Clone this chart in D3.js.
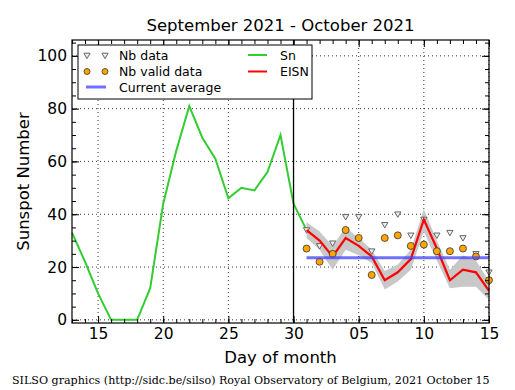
<!DOCTYPE html>
<html>
<head>
<meta charset="utf-8">
<script src="https://cdn.jsdelivr.net/npm/d3@7"></script>
<style>
  body { margin: 0; background: #fff; }
  text { font-family: "DejaVu Sans", sans-serif; }
</style>
</head>
<body>
<div id="chart"></div>
<script>
// Days counted from 1 September (31 = 1 October)
const snDays = [13, 14, 15, 16, 17, 18, 19, 20, 21, 22, 23, 24, 25, 26, 27, 28, 29, 30, 31];
const snValues = [33, 22, 10, 0, 0, 0, 12, 44, 64, 81, 69, 61, 46, 50, 49, 56, 70, 44, 34];

const eisnDays = [31, 32, 33, 34, 35, 36, 37, 38, 39, 40, 41, 42, 43, 44, 45];
const eisnValues = [34, 30, 24, 31, 28, 24, 15, 18, 23, 38, 27, 15, 19, 18, 11];
const eisnUpper = [37, 33.5, 28, 35, 31, 26.5, 18.5, 21, 26.5, 42, 30, 19, 24.5, 22.5, 14.5];
const eisnLower = [31, 26.5, 19, 26.5, 24.5, 21.5, 11.5, 14.5, 19, 33.5, 22.5, 12, 12.5, 12.5, 7.5];

const nbData = [34, 28, 29, 39, 39, 26, 36, 40, 32, 38, 32, 33, 31, 25, 18];
const nbValid = [27, 22, 25, 34, 31, 17, 31, 32, 28, 28.5, 26, 26, 27, 24, 15];

const currentAverage = 23.5;

const xTicks = [15, 20, 25, 30, 35, 40, 45];
const xTickLabels = ["15", "20", "25", "30", "05", "10", "15"];
const yTicks = [0, 20, 40, 60, 80, 100];

const W = 515, H = 390;
const margin = {top: 40, right: 26, bottom: 67, left: 72};
const width = W - margin.left - margin.right;
const height = H - margin.top - margin.bottom;

const svg = d3.select("#chart").append("svg")
  .attr("width", W)
  .attr("height", H);

const g = svg.append("g")
  .attr("transform", `translate(${margin.left},${margin.top})`);

const x = d3.scaleLinear().domain([13, 45]).range([0, width]);
const y = d3.scaleLinear().domain([-1.2, 106]).range([height, 0]);

// Grid
g.append("g").selectAll("line")
  .data(xTicks)
  .join("line")
  .attr("x1", d => x(d)).attr("x2", d => x(d))
  .attr("y1", 0).attr("y2", height)
  .attr("stroke", "#000").attr("stroke-width", 0.8)
  .attr("stroke-dasharray", "1,3");
g.append("g").selectAll("line")
  .data(yTicks)
  .join("line")
  .attr("x1", 0).attr("x2", width)
  .attr("y1", d => y(d)).attr("y2", d => y(d))
  .attr("stroke", "#000").attr("stroke-width", 0.8)
  .attr("stroke-dasharray", "1,3");

// Uncertainty band
const band = d3.area()
  .x((d, i) => x(eisnDays[i]))
  .y0((d, i) => y(eisnLower[i]))
  .y1((d, i) => y(eisnUpper[i]));
g.append("path")
  .datum(eisnDays)
  .attr("fill", "#c8c8c8")
  .attr("d", band);

// Sn line
const snLine = d3.line()
  .x((d, i) => x(snDays[i]))
  .y(d => y(d));
g.append("path")
  .datum(snValues)
  .attr("fill", "none")
  .attr("stroke", "#33cc33")
  .attr("stroke-width", 2)
  .attr("d", snLine);

// Vertical line at end of September
g.append("line")
  .attr("x1", x(30)).attr("x2", x(30))
  .attr("y1", 0).attr("y2", height)
  .attr("stroke", "#000").attr("stroke-width", 1.3);

// Nb data triangles
const tri = d3.symbol().type(d3.symbolTriangle).size(17);
g.append("g").selectAll("path")
  .data(nbData)
  .join("path")
  .attr("d", tri)
  .attr("transform", (d, i) => `translate(${x(eisnDays[i])},${y(d) - 0.5}) rotate(180)`)
  .attr("fill", "#eeeeee")
  .attr("stroke", "#666")
  .attr("stroke-width", 1);

// EISN line
const eisnLine = d3.line()
  .x((d, i) => x(eisnDays[i]))
  .y(d => y(d));
g.append("path")
  .datum(eisnValues)
  .attr("fill", "none")
  .attr("stroke", "#ff0000")
  .attr("stroke-width", 2.2)
  .attr("d", eisnLine);

// Nb valid circles
g.append("g").selectAll("circle")
  .data(nbValid)
  .join("circle")
  .attr("cx", (d, i) => x(eisnDays[i]))
  .attr("cy", d => y(d))
  .attr("r", 3.5)
  .attr("fill", "#ffa500")
  .attr("stroke", "#333")
  .attr("stroke-width", 0.8);

// Current average
g.append("line")
  .attr("x1", x(31)).attr("x2", x(45))
  .attr("y1", y(currentAverage)).attr("y2", y(currentAverage))
  .attr("stroke", "#4040ff").attr("stroke-opacity", 0.75)
  .attr("stroke-width", 3);

// Axes (ticks inside on all sides)
const tickFmt = d => xTickLabels[xTicks.indexOf(d)];
const days = d3.range(13, 46);
const fives = d3.range(0, 106, 5);

function styleAxis(sel) {
  sel.select(".domain").remove();
  sel.selectAll("text").attr("font-size", 15.5).attr("font-family", "DejaVu Sans");
  sel.selectAll("line").attr("stroke-width", 1);
}

g.append("g").attr("transform", `translate(0,${height})`)
  .call(d3.axisBottom(x).tickValues(days).tickSize(-4).tickFormat("")).call(styleAxis);
g.append("g").attr("transform", `translate(0,${height})`)
  .call(d3.axisBottom(x).tickValues(xTicks).tickSize(-7).tickPadding(5).tickFormat(tickFmt)).call(styleAxis);
g.append("g")
  .call(d3.axisTop(x).tickValues(days).tickSize(-4).tickFormat("")).call(styleAxis);
g.append("g")
  .call(d3.axisTop(x).tickValues(xTicks).tickSize(-7).tickFormat("")).call(styleAxis);

g.append("g")
  .call(d3.axisLeft(y).tickValues(fives).tickSize(-4).tickFormat("")).call(styleAxis);
g.append("g")
  .call(d3.axisLeft(y).tickValues(yTicks).tickSize(-7).tickPadding(5)).call(styleAxis);
g.append("g").attr("transform", `translate(${width},0)`)
  .call(d3.axisRight(y).tickValues(fives).tickSize(-4).tickFormat("")).call(styleAxis);
g.append("g").attr("transform", `translate(${width},0)`)
  .call(d3.axisRight(y).tickValues(yTicks).tickSize(-7).tickFormat("")).call(styleAxis);

// Frame
g.append("rect")
  .attr("width", width).attr("height", height)
  .attr("fill", "none").attr("stroke", "#000").attr("stroke-width", 1.2);

// Legend
const legend = g.append("g").attr("transform", "translate(6,5)");
legend.append("rect")
  .attr("width", 234).attr("height", 54)
  .attr("fill", "#fff").attr("stroke", "#000").attr("stroke-width", 1);
[9, 27].forEach(px => {
  legend.append("path").attr("d", tri)
    .attr("transform", `translate(${px},10) rotate(180)`)
    .attr("fill", "#eeeeee").attr("stroke", "#666");
  legend.append("circle").attr("cx", px).attr("cy", 26.5).attr("r", 3)
    .attr("fill", "#ffa500").attr("stroke", "#333").attr("stroke-width", 0.8);
});
legend.append("line").attr("x1", 8).attr("x2", 28).attr("y1", 42).attr("y2", 42)
  .attr("stroke", "#4040ff").attr("stroke-opacity", 0.75).attr("stroke-width", 3);
legend.append("line").attr("x1", 170).attr("x2", 189).attr("y1", 10).attr("y2", 10)
  .attr("stroke", "#33cc33").attr("stroke-width", 2);
legend.append("line").attr("x1", 170).attr("x2", 189).attr("y1", 26.5).attr("y2", 26.5)
  .attr("stroke", "#ff0000").attr("stroke-width", 2);
const legendText = [["Nb data", 41, 14.5], ["Nb valid data", 41, 31], ["Current average", 41, 46.5],
                    ["Sn", 202, 14.5], ["EISN", 202, 31]];
legend.selectAll("text.lt")
  .data(legendText)
  .join("text")
  .attr("x", d => d[1]).attr("y", d => d[2])
  .attr("font-size", 12.5)
  .text(d => d[0]);

// Titles
svg.append("text")
  .attr("x", margin.left + width / 2).attr("y", 31)
  .attr("text-anchor", "middle").attr("font-size", 16.5)
  .text("September 2021 - October 2021");
svg.append("text")
  .attr("x", margin.left + width / 2).attr("y", 363)
  .attr("text-anchor", "middle").attr("font-size", 16.5)
  .text("Day of month");
svg.append("text")
  .attr("transform", `translate(29,${margin.top + height / 2}) rotate(-90)`)
  .attr("text-anchor", "middle").attr("font-size", 16.5)
  .text("Sunspot Number");
svg.append("text")
  .attr("x", 12).attr("y", 384)
  .attr("font-size", 11.1)
  .style("font-family", "DejaVu Serif")
  .text("SILSO graphics (http://sidc.be/silso) Royal Observatory of Belgium, 2021 October 15");
</script>
</body>
</html>
